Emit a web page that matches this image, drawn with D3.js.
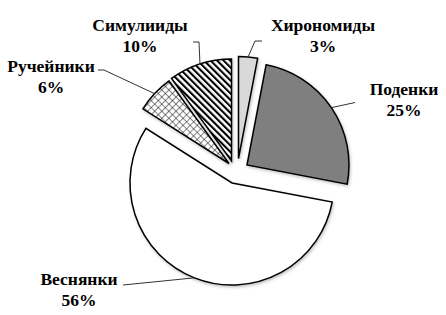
<!DOCTYPE html>
<html>
<head>
<meta charset="utf-8">
<script src="https://cdn.jsdelivr.net/npm/d3@7"></script>
<style>
  html, body { margin: 0; padding: 0; background: #fff; }
  svg { display: block; }
  text { font-family: "Liberation Serif", "Times New Roman", serif; font-weight: bold; font-size: 17.5px; fill: #000; }
</style>
</head>
<body>
<div id="chart"></div>
<script>
// data
const categories = ["Хирономиды", "Поденки", "Веснянки", "Ручейники", "Симулииды"];
const shares = [3, 25, 56, 6, 10];

const width = 446;
const height = 315;
const radius = 102;
const center = { x: 240, y: 161 };

// how far each slice is pulled out of the pie (px)
const explode = [[-1.5, -2.5], [7, 4], [-8, 22], [-11, 2.5], [-8.5, 0]];
const fills = ["#d9d9d9", "#7f7f7f", "#ffffff", "url(#cross)", "url(#stripes)"];

// label placement: text centre + elbow points of the leader line
const labelPos = [
  { x: 323, y: 31, line: [[262, 41], [255, 41]] },
  { x: 404, y: 95, line: [[355, 102.5]] },
  { x: 79, y: 285, line: [[123, 285]] },
  { x: 51, y: 72, line: [[98, 70], [104, 70]] },
  { x: 140, y: 31, line: [[193, 42], [199, 42]] },
];

const data = categories.map((name, i) => ({ name, value: shares[i], i }));

const svg = d3
  .select("#chart")
  .append("svg")
  .attr("width", width)
  .attr("height", height);

const defs = svg.append("defs");

const stripes = defs
  .append("pattern")
  .attr("id", "stripes")
  .attr("patternUnits", "userSpaceOnUse")
  .attr("width", 4.6)
  .attr("height", 4.6)
  .attr("patternTransform", "rotate(-45)");
stripes.append("rect").attr("width", 4.6).attr("height", 4.6).attr("fill", "#fff");
stripes.append("rect").attr("width", 2.1).attr("height", 4.6).attr("fill", "#000");

const cross = defs
  .append("pattern")
  .attr("id", "cross")
  .attr("patternUnits", "userSpaceOnUse")
  .attr("width", 5)
  .attr("height", 5)
  .attr("patternTransform", "rotate(45)");
cross.append("rect").attr("width", 5).attr("height", 5).attr("fill", "#fff");
cross.append("line").attr("x1", 0).attr("y1", 0).attr("x2", 0).attr("y2", 5)
  .attr("stroke", "#222").attr("stroke-width", 1.1);
cross.append("line").attr("x1", 0).attr("y1", 0).attr("x2", 5).attr("y2", 0)
  .attr("stroke", "#222").attr("stroke-width", 1.1);

const shadow = defs.append("filter").attr("id", "shadow")
  .attr("x", "-20%").attr("y", "-20%").attr("width", "140%").attr("height", "140%");
shadow.append("feDropShadow")
  .attr("dx", 1).attr("dy", 1.5).attr("stdDeviation", 1.5)
  .attr("flood-color", "#000").attr("flood-opacity", 0.25);

const pie = d3.pie().sort(null).value((d) => d.value).startAngle(0).endAngle(2 * Math.PI);
const arc = d3.arc().innerRadius(0).outerRadius(radius);
const arcs = pie(data);

const slices = svg
  .selectAll(".slice")
  .data(arcs)
  .enter()
  .append("g")
  .attr("class", "slice")
  .attr("transform", (d) => {
    const o = explode[d.data.i];
    return `translate(${center.x + o[0]},${center.y + o[1]})`;
  });

slices
  .append("path")
  .attr("d", arc)
  .attr("fill", (d) => fills[d.data.i])
  .attr("stroke", "#000")
  .attr("stroke-width", 1.5)
  .attr("stroke-linejoin", "miter")
  .attr("filter", "url(#shadow)");

// leader lines end on the outer arc at the slice's middle angle
const edgePoint = (d) => {
  const a = (d.startAngle + d.endAngle) / 2;
  const o = explode[d.data.i];
  return [center.x + o[0] + radius * Math.sin(a), center.y + o[1] - radius * Math.cos(a)];
};

svg
  .selectAll(".leader")
  .data(arcs)
  .enter()
  .append("path")
  .attr("class", "leader")
  .attr("fill", "none")
  .attr("stroke", "#333")
  .attr("stroke-width", 1)
  .attr("d", (d) => d3.line()([...labelPos[d.data.i].line, edgePoint(d)]));

const labels = svg
  .selectAll(".label")
  .data(arcs)
  .enter()
  .append("text")
  .attr("class", "label")
  .attr("text-anchor", "middle")
  .attr("x", (d) => labelPos[d.data.i].x)
  .attr("y", (d) => labelPos[d.data.i].y);

labels.append("tspan")
  .attr("x", (d) => labelPos[d.data.i].x)
  .text((d) => d.data.name);
labels.append("tspan")
  .attr("x", (d) => labelPos[d.data.i].x)
  .attr("dy", 21)
  .text((d) => d.data.value + "%");
</script>
</body>
</html>
